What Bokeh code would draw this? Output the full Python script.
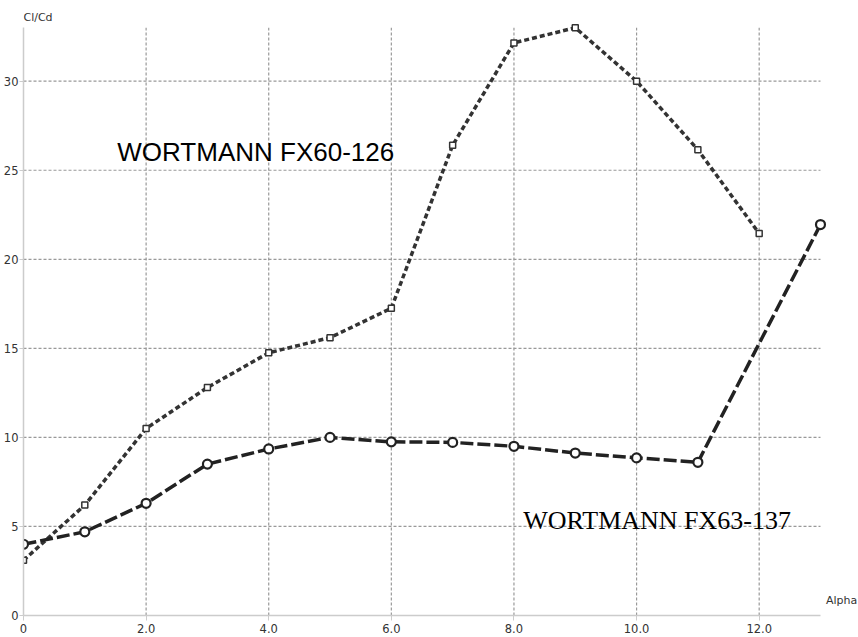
from bokeh.plotting import figure
from bokeh.models import FixedTicker, Range1d, Label
from bokeh.embed import file_html
from bokeh.resources import INLINE

# Data
alpha_fx60 = [0, 1, 2, 3, 4, 5, 6, 7, 8, 9, 10, 11, 12]
clcd_fx60 = [3.1, 6.2, 10.5, 12.8, 14.75, 15.6, 17.25, 26.4, 32.15, 33.0, 30.0, 26.15, 21.45]

alpha_fx63 = [0, 1, 2, 3, 4, 5, 6, 7, 8, 9, 10, 11, 13]
clcd_fx63 = [4.0, 4.7, 6.3, 8.5, 9.35, 10.0, 9.75, 9.72, 9.5, 9.12, 8.85, 8.6, 21.95]

x_ticks = [0, 2, 4, 6, 8, 10, 12]
x_tick_labels = ["0", "2.0", "4.0", "6.0", "8.0", "10.0", "12.0"]
y_ticks = [0, 5, 10, 15, 20, 25, 30]
y_tick_labels = ["0", "5", "10", "15", "20", "25", "30"]

x_max = 13
y_max = 33

label_fx60 = "WORTMANN FX60-126"
label_fx63 = "WORTMANN FX63-137"

p = figure(width=858, height=637, output_backend="svg", toolbar_location=None,
           x_range=Range1d(0, 13.62), y_range=Range1d(0, 34.53),
           min_border_left=21, min_border_right=0, min_border_top=0,
           min_border_bottom=22)
p.outline_line_color = None
p.background_fill_color = "white"
p.border_fill_color = "white"
p.xgrid.visible = False
p.ygrid.visible = False

for ax in (p.xaxis[0], p.yaxis[0]):
    ax.axis_line_color = "#cccccc"
    ax.axis_line_width = 1.5
    ax.major_tick_line_color = "#cccccc"
    ax.major_tick_out = 5
    ax.major_tick_in = 0
    ax.minor_tick_line_color = None
    ax.major_label_text_font = "DejaVu Sans"
    ax.major_label_text_font_size = "11.5px"
    ax.major_label_text_color = "#333333"

p.xaxis.ticker = FixedTicker(ticks=x_ticks)
p.xaxis.major_label_overrides = dict(zip(x_ticks, x_tick_labels))
p.xaxis.major_label_standoff = 3
p.xaxis.bounds = (0, x_max)
p.yaxis.ticker = FixedTicker(ticks=y_ticks)
p.yaxis.major_label_overrides = dict(zip(y_ticks, y_tick_labels))
p.yaxis.major_label_standoff = 1
p.yaxis.major_tick_out = 4
p.yaxis.bounds = (0, y_max)

# dashed grid lines, bounded to the data area
gx = x_ticks[1:]
p.segment(x0=gx, y0=[0] * len(gx), x1=gx, y1=[y_max] * len(gx),
          line_color="#999999", line_width=1.2, line_dash="3 2")
gy = y_ticks[1:]
p.segment(x0=[0] * len(gy), y0=gy, x1=[x_max] * len(gy), y1=gy,
          line_color="#999999", line_width=1.2, line_dash="3 2")

# FX60-126: short dashes, small square markers
p.line(alpha_fx60, clcd_fx60, line_color="#333333", line_width=3.5, line_dash="5 3")
p.scatter(alpha_fx60, clcd_fx60, marker="square", size=6, fill_color="white",
          line_color="#333333", line_width=1.5)

# FX63-137: long dashes, circle markers
p.line(alpha_fx63, clcd_fx63, line_color="#222222", line_width=3.5, line_dash="13 4")
p.scatter(alpha_fx63, clcd_fx63, marker="circle", size=9, fill_color="white",
          line_color="#222222", line_width=2.2)

p.add_layout(Label(x=1.53, y=26.0, text=label_fx60, text_font="Liberation Sans",
                   text_font_size="26px", text_color="black", text_baseline="alphabetic"))
p.add_layout(Label(x=8.15, y=5.36, text=label_fx63, text_font="Liberation Serif",
                   text_font_size="26px", text_color="black", text_baseline="alphabetic"))

# axis titles placed as in the reference
p.add_layout(Label(x=0.0, y=33.6, text="Cl/Cd", text_font="DejaVu Sans",
                   text_font_size="11px", text_color="#333333", text_align="left",
                   text_baseline="middle"))
p.add_layout(Label(x=13.09, y=0.85, text="Alpha", text_font="DejaVu Sans",
                   text_font_size="11px", text_color="#333333", text_align="left",
                   text_baseline="middle"))

open("out.html", "w").write(file_html(p, INLINE))
